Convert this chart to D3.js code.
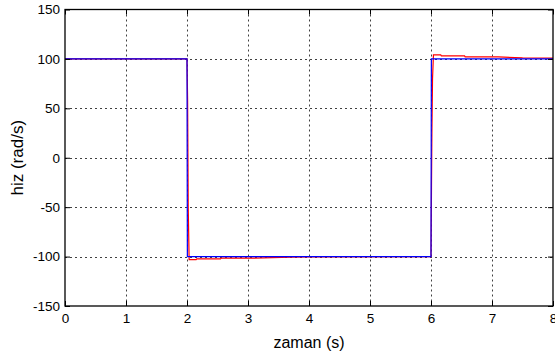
<!DOCTYPE html>
<html>
<head>
<meta charset="utf-8">
<script src="https://cdn.jsdelivr.net/npm/d3@7"></script>
<style>
  html, body { margin: 0; padding: 0; background: #fff; }
  svg { display: block; font-family: "Liberation Sans", Arial, sans-serif; }
</style>
</head>
<body>
<svg id="chart" width="555" height="353"></svg>
<script>
// Speed response: reference (red) and measured (blue) over time
const timeRed = [0, 2.0, 2.01, 2.02, 2.035, 2.15, 2.16, 2.55, 2.56, 3.1, 3.7, 4.0, 6.0, 6.008, 6.015, 6.025, 6.04, 6.16, 6.17, 6.55, 6.56, 7.1, 7.5, 8];
const speedRed = [100, 100, 58, -50, -103, -103, -102.3, -102.3, -101.6, -101.6, -100.6, -100.2, -100, -30, 28, 80, 104, 104, 103, 103, 102, 102, 101, 100.8];

const timeBlue = [0, 2.0, 2.006, 6.0, 6.006, 8];
const speedBlue = [100, 100, -100, -100, 100, 100];

const xTicks = [0, 1, 2, 3, 4, 5, 6, 7, 8];
const yTicks = [-150, -100, -50, 0, 50, 100, 150];

const margin = { left: 65, top: 9.5, right: 2, bottom: 47 };
const W = 555, H = 353;
const svg = d3.select("#chart");

const x = d3.scaleLinear().domain([0, 8]).range([margin.left, W - margin.right]);
const y = d3.scaleLinear().domain([-150, 150]).range([H - margin.bottom, margin.top]);

const plotW = x(8) - x(0), plotH = y(-150) - y(150);

// dotted grid
const grid = svg.append("g").attr("stroke", "#000").attr("stroke-width", 1)
  .attr("stroke-dasharray", "2,3").attr("stroke-opacity", 0.75);
grid.selectAll("line.vx").data(xTicks.slice(1, -1)).join("line")
  .attr("class", "vx")
  .attr("x1", d => Math.round(x(d)) + 0.5).attr("x2", d => Math.round(x(d)) + 0.5)
  .attr("y1", y(150)).attr("y2", y(-150));
grid.selectAll("line.hy").data(yTicks.slice(1, -1)).join("line")
  .attr("class", "hy")
  .attr("y1", d => Math.round(y(d)) + 0.5).attr("y2", d => Math.round(y(d)) + 0.5)
  .attr("x1", x(0)).attr("x2", x(8));

// data lines
const line = d3.line().x(d => x(d[0])).y(d => y(d[1]));
svg.append("path")
  .datum(timeRed.map((t, i) => [t, speedRed[i]]))
  .attr("fill", "none").attr("stroke", "#ff0000").attr("stroke-width", 1.2)
  .attr("d", line);
svg.append("path")
  .datum(timeBlue.map((t, i) => [t, speedBlue[i]]))
  .attr("fill", "none").attr("stroke", "#0000ff").attr("stroke-width", 1.2)
  .attr("d", line);

// axes with inward ticks
const fontSize = 13.5;
const fmt = d => String(d);
const axB = svg.append("g").attr("transform", `translate(0,${y(-150)})`)
  .call(d3.axisBottom(x).tickValues(xTicks).tickSize(-5).tickPadding(7).tickFormat(fmt));
const axL = svg.append("g").attr("transform", `translate(${x(0)},0)`)
  .call(d3.axisLeft(y).tickValues(yTicks).tickSize(-5).tickPadding(5).tickFormat(fmt));
const axT = svg.append("g").attr("transform", `translate(0,${y(150)})`)
  .call(d3.axisTop(x).tickValues(xTicks).tickSize(-5).tickFormat(""));
const axR = svg.append("g").attr("transform", `translate(${x(8)},0)`)
  .call(d3.axisRight(y).tickValues(yTicks).tickSize(-5).tickFormat(""));

[axB, axL, axT, axR].forEach(a => {
  a.select(".domain").remove();
  a.selectAll("line").attr("stroke", "#000");
  a.selectAll("text").attr("fill", "#000").style("font-size", fontSize + "px")
    .style("font-family", "'Liberation Sans', Arial, sans-serif");
});

// frame
svg.append("rect")
  .attr("x", x(0)).attr("y", y(150)).attr("width", plotW).attr("height", plotH)
  .attr("fill", "none").attr("stroke", "#000").attr("stroke-width", 1.3);

// axis titles
svg.append("text")
  .attr("x", (x(0) + x(8)) / 2).attr("y", 348)
  .attr("text-anchor", "middle").style("font-size", "16px")
  .text("zaman (s)");
svg.append("text")
  .attr("transform", `translate(23,${(y(150) + y(-150)) / 2}) rotate(-90)`)
  .attr("text-anchor", "middle").style("font-size", "17px")
  .text("hiz (rad/s)");
</script>
</body>
</html>
